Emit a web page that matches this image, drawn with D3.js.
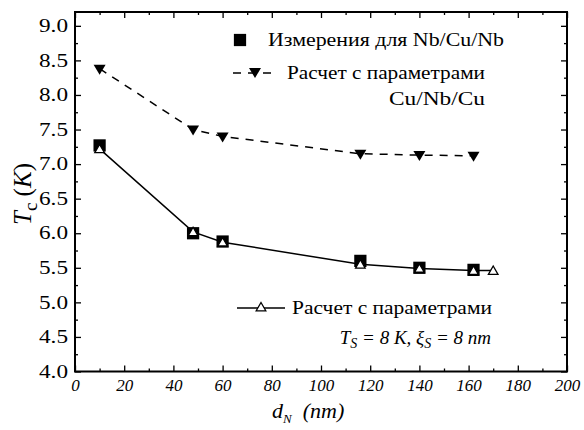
<!DOCTYPE html>
<html>
<head>
<meta charset="utf-8">
<script src="https://cdn.jsdelivr.net/npm/d3@7"></script>
<style>
  html, body { margin: 0; padding: 0; background: #fff; }
  svg { display: block; }
  svg text { font-family: "Liberation Serif", "Times New Roman", "DejaVu Serif", serif !important; }
</style>
</head>
<body>
<svg id="chart" width="584" height="430"></svg>
<script>
// Thickness of the N layer, nm
const measuredX = [10, 48, 60, 116, 140, 162];
// Measured Tc for Nb/Cu/Nb, K
const measuredTc = [7.27, 6.0, 5.88, 5.6, 5.5, 5.47];

// Calculation with Cu/Nb/Cu parameters
const calcCuX = [10, 48, 60, 116, 140, 162];
const calcCuTc = [8.38, 7.5, 7.4, 7.15, 7.13, 7.12];

// Calculation with T_S = 8 K, xi_S = 8 nm
const calcSX = [10, 48, 60, 116, 140, 162, 170];
const calcSTc = [7.22, 6.02, 5.87, 5.55, 5.49, 5.46, 5.46];

const xTicks = [0, 20, 40, 60, 80, 100, 120, 140, 160, 180, 200];
const yTicks = [4.0, 4.5, 5.0, 5.5, 6.0, 6.5, 7.0, 7.5, 8.0, 8.5, 9.0];

const svg = d3.select("#chart");
const plotL = 75, plotR = 567, plotT = 12, plotB = 371.5;

const x = d3.scaleLinear().domain([0, 200]).range([plotL, plotR]);
const y = d3.scaleLinear().domain([4, 9.2]).range([plotB, plotT]);

const minorX = d3.range(10, 200, 20);
const minorY = d3.range(4.25, 9.2, 0.5);

// Frame
svg.append("rect")
  .attr("x", plotL).attr("y", plotT)
  .attr("width", plotR - plotL).attr("height", plotB - plotT)
  .attr("fill", "none").attr("stroke", "#000").attr("stroke-width", 2);

// Axes with inward ticks
const fmtY = d3.format(".1f");
function axisStyle(g) {
  g.select(".domain").remove();
  g.selectAll(".tick line").attr("stroke", "#000").attr("stroke-width", 1.3);
}
const tickFont = 18;

svg.append("g").attr("transform", `translate(0,${plotB})`)
  .call(d3.axisBottom(x).tickValues(xTicks).tickSize(-6).tickPadding(7).tickFormat(d3.format("d")))
  .call(axisStyle)
  .selectAll("text").attr("font-size", 17).attr("font-style", "italic").attr("fill", "#000");
svg.append("g").attr("transform", `translate(0,${plotB})`)
  .call(d3.axisBottom(x).tickValues(minorX).tickSize(-3).tickFormat(""))
  .call(axisStyle);
svg.append("g").attr("transform", `translate(0,${plotT})`)
  .call(d3.axisTop(x).tickValues(xTicks).tickSize(-6).tickFormat(""))
  .call(axisStyle);
svg.append("g").attr("transform", `translate(0,${plotT})`)
  .call(d3.axisTop(x).tickValues(minorX).tickSize(-3).tickFormat(""))
  .call(axisStyle);

svg.append("g").attr("transform", `translate(${plotL},0)`)
  .call(d3.axisLeft(y).tickValues(yTicks).tickSize(-6).tickPadding(7).tickFormat(fmtY))
  .call(axisStyle)
  .selectAll("text").attr("font-size", tickFont).attr("fill", "#000")
  .attr("textLength", 29).attr("lengthAdjust", "spacingAndGlyphs");
svg.append("g").attr("transform", `translate(${plotL},0)`)
  .call(d3.axisLeft(y).tickValues(minorY).tickSize(-3).tickFormat(""))
  .call(axisStyle);
svg.append("g").attr("transform", `translate(${plotR},0)`)
  .call(d3.axisRight(y).tickValues(yTicks).tickSize(-6).tickFormat(""))
  .call(axisStyle);
svg.append("g").attr("transform", `translate(${plotR},0)`)
  .call(d3.axisRight(y).tickValues(minorY).tickSize(-3).tickFormat(""))
  .call(axisStyle);

// Lines
const line = d3.line().x(d => x(d[0])).y(d => y(d[1]));
const cuPts = calcCuX.map((v, i) => [v, calcCuTc[i]]);
const sPts = calcSX.map((v, i) => [v, calcSTc[i]]);
const mPts = measuredX.map((v, i) => [v, measuredTc[i]]);

svg.append("path").datum(cuPts).attr("d", line)
  .attr("fill", "none").attr("stroke", "#000").attr("stroke-width", 1.5)
  .attr("stroke-dasharray", "8,7");
svg.append("path").datum(sPts).attr("d", line)
  .attr("fill", "none").attr("stroke", "#000").attr("stroke-width", 1.5);

// Markers
const square = d3.symbol().type(d3.symbolSquare).size(150);
const triDown = "M-6,-4L6,-4L0,6Z";
const triUp = d3.symbol().type(d3.symbolTriangle).size(40);

svg.append("g").selectAll("path").data(mPts).join("path")
  .attr("transform", d => `translate(${x(d[0])},${y(d[1])})`)
  .attr("d", square).attr("fill", "#000");

svg.append("g").selectAll("path").data(cuPts).join("path")
  .attr("transform", d => `translate(${x(d[0])},${y(d[1])})`)
  .attr("d", triDown).attr("fill", "#000");

svg.append("g").selectAll("path").data(sPts).join("path")
  .attr("transform", d => `translate(${x(d[0])},${y(d[1]) + 1})`)
  .attr("d", triUp).attr("fill", "#fff").attr("stroke", "#000").attr("stroke-width", 1.3);

// Legend
const legFont = 19;
const leg = svg.append("g").attr("font-size", legFont).attr("fill", "#000");
const fit = (sel, w) => sel.attr("textLength", w).attr("lengthAdjust", "spacingAndGlyphs");

leg.append("path").attr("transform", "translate(240,40)").attr("d", square).attr("fill", "#000");
leg.append("text").attr("x", 268).attr("y", 46).text("Измерения для Nb/Cu/Nb").call(fit, 236);

leg.append("line").attr("x1", 233).attr("x2", 277).attr("y1", 73).attr("y2", 73)
  .attr("stroke", "#000").attr("stroke-width", 1.5).attr("stroke-dasharray", "8,7");
leg.append("path").attr("transform", "translate(255,72)").attr("d", triDown).attr("fill", "#000");
leg.append("text").attr("x", 287).attr("y", 79).text("Расчет с параметрами").call(fit, 198);
leg.append("text").attr("x", 389).attr("y", 105).text("Cu/Nb/Cu").call(fit, 96);

leg.append("line").attr("x1", 237).attr("x2", 285).attr("y1", 308).attr("y2", 308)
  .attr("stroke", "#000").attr("stroke-width", 1.5);
leg.append("path").attr("transform", "translate(261,308)").attr("d", triUp)
  .attr("fill", "#fff").attr("stroke", "#000").attr("stroke-width", 1.3);
leg.append("text").attr("x", 292).attr("y", 314).text("Расчет с параметрами").call(fit, 200);

const p2 = leg.append("text").attr("x", 491).attr("y", 344).attr("text-anchor", "end")
  .attr("font-style", "italic");
p2.append("tspan").text("T");
p2.append("tspan").attr("font-size", 14).attr("dy", 4).text("S");
p2.append("tspan").attr("dy", -4).text(" = 8 K, ξ");
p2.append("tspan").attr("font-size", 14).attr("dy", 4).text("S");
p2.append("tspan").attr("dy", -4).text(" = 8 nm");

// Axis titles
const yt = svg.append("text")
  .attr("transform", "translate(31,194) rotate(-90)")
  .attr("text-anchor", "middle").attr("font-size", 25).attr("fill", "#000");
yt.append("tspan").attr("font-style", "italic").text("T");
yt.append("tspan").attr("font-size", 19).attr("dy", 6).text("c");
yt.append("tspan").attr("dy", -6).text(" (");
yt.append("tspan").attr("font-style", "italic").text("K");
yt.append("tspan").text(")");

const xt = svg.append("text")
  .attr("x", 272).attr("y", 418)
  .attr("font-size", 22).attr("font-style", "italic").attr("fill", "#000");
xt.append("tspan").text("d");
xt.append("tspan").attr("font-size", 13).attr("dy", 5).text("N");
xt.append("tspan").attr("dy", -5).text("\u00a0\u00a0(nm)");
</script>
</body>
</html>
